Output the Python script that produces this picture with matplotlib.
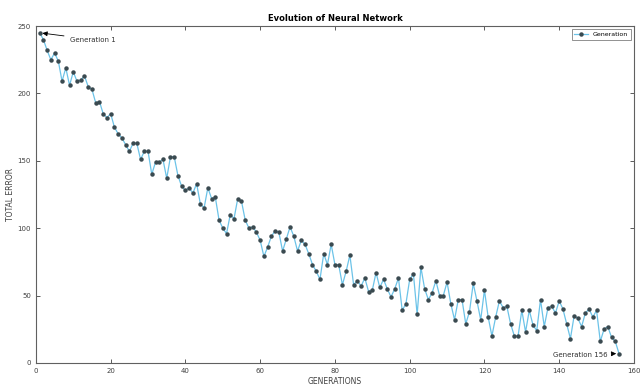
import matplotlib.pyplot as plt
import numpy as np

# Total error of the best network in each generation
generations = np.arange(1, 157)
total_error = [
    245, 240, 232, 225, 230, 224, 209, 219, 206, 216,
    209, 210, 213, 205, 203, 193, 194, 185, 182, 185,
    175, 170, 167, 162, 157, 163, 163, 151, 157, 157,
    140, 149, 149, 151, 137, 153, 153, 139, 131, 128,
    130, 126, 133, 118, 115, 130, 122, 123, 106, 100,
    96, 110, 107, 122, 120, 106, 100, 101, 97, 91,
    79, 86, 94, 98, 97, 83, 92, 101, 94, 83,
    91, 88, 81, 73, 68, 62, 81, 73, 88, 73,
    73, 58, 68, 80, 58, 61, 57, 63, 53, 54,
    67, 56, 62, 55, 49, 55, 63, 39, 44, 62,
    66, 36, 71, 55, 47, 52, 61, 50, 50, 60,
    44, 32, 47, 47, 29, 38, 59, 46, 32, 54,
    34, 20, 34, 46, 41, 42, 29, 20, 20, 39,
    23, 39, 28, 24, 47, 27, 41, 42, 37, 46,
    40, 29, 18, 35, 33, 27, 37, 40, 34, 39,
    16, 25, 27, 19, 16, 7,
]

x_ticks = np.arange(0, 161, 20)
y_ticks = np.arange(0, 251, 50)

fig = plt.figure(figsize=(6.41, 3.89), dpi=100)
ax = fig.add_axes([0.056, 0.067, 0.933, 0.866])

ax.plot(generations, total_error, color='#6cc3e8', linewidth=0.9,
        marker='o', markersize=2.2, markerfacecolor='#3a4a50',
        markeredgecolor='#3a4a50', label='Generation')

ax.set_xlim(0, 160)
ax.set_ylim(0, 250)
ax.set_xticks(x_ticks)
ax.set_yticks(y_ticks)
ax.tick_params(direction='in', top=True, right=True, labelsize=5,
               colors='#404040', length=3, width=0.6)
for spine in ax.spines.values():
    spine.set_color('#606060')
    spine.set_linewidth(0.8)

ax.set_title('Evolution of Neural Network', fontsize=6, fontweight='bold', pad=4)
ax.set_xlabel('GENERATIONS', fontsize=5.5, color='#404040', labelpad=2)
ax.set_ylabel('TOTAL ERROR', fontsize=5.5, color='#404040', labelpad=2)

arrow = dict(arrowstyle='-|>', color='black', lw=0.6, mutation_scale=7)
ax.annotate('Generation 1', xy=(generations[0], total_error[0]),
            xytext=(9, 240), fontsize=5, color='#303030',
            va='center', arrowprops=arrow)
ax.annotate('Generation %d' % generations[-1],
            xy=(generations[-1], total_error[-1]),
            xytext=(153, 6), fontsize=5, color='#303030',
            ha='right', va='center', arrowprops=arrow)

leg = ax.legend(loc='upper right', fontsize=4.5, frameon=True,
                fancybox=False, edgecolor='#606060', handlelength=2.2,
                borderpad=0.4)
leg.get_frame().set_linewidth(0.6)

fig.savefig('out.png', dpi=100)
